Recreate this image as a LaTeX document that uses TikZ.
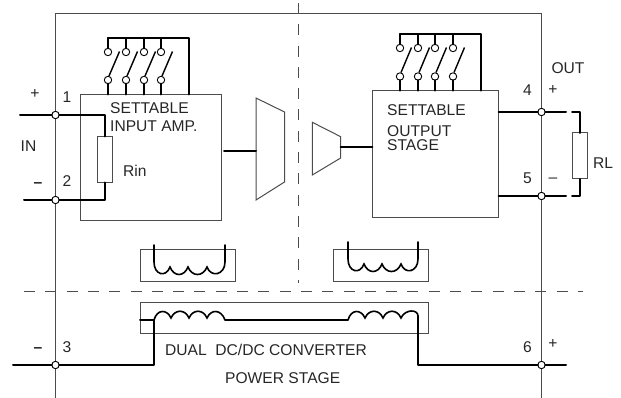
\documentclass[tikz,border=0pt]{standalone}
\usepackage{fontspec}
\usetikzlibrary{calc}
\setmainfont{Liberation Sans}
\definecolor{framegray}{gray}{0.3}
\tikzset{
  thinline/.style={draw=framegray, line width=1pt},
  wire/.style={line width=2pt, line cap=round, line join=round},
  sep/.style={framegray, line width=1pt, dash pattern=on 11pt off 10.3pt},
  block/.style={thinline, rectangle, inner sep=0pt, outer sep=0pt},
  res/.style={block, fill=white, minimum width=14.5pt, minimum height=46pt},
  term/.style={circle, draw=black, fill=white, line width=0.9pt, minimum size=7.4pt, inner sep=0pt, outer sep=0pt},
  lab/.style={inner sep=0pt, font=\fontsize{15.6}{18}\selectfont, text=black!85},
  labw/.style={lab, anchor=west}
}
\begin{document}
\begin{tikzpicture}[x=1pt,y=-1pt]
\useasboundingbox (0,0) rectangle (621,398);

% Frame and separators
\draw[thinline] (55.5,398) -- (55.5,13.5) -- (541.5,13.5) -- (541.5,398);
\draw[sep] (298.5,3) -- (298.5,283);
\draw[sep] (24,291.5) -- (583,291.5);

% Blocks
\node[block, minimum width=141pt, minimum height=126.5pt] (inamp) at (150.5,157.75) {};
\node[block, minimum width=126.4pt, minimum height=127pt] (outstage) at (435.5,154.2) {};
\node[block, minimum width=95pt, minimum height=32pt] (xfa) at (187.5,265) {};
\node[block, minimum width=95.4pt, minimum height=32pt] (xfb) at (381,265) {};
\node[block, minimum width=288.7pt, minimum height=31.5pt] (conv) at (284.35,317.75) {};

% Resistors
\node[res] (rin) at (105,159.5) {};
\node[res] (rl) at (580,156) {};

% Amplifier stages
\draw[thinline] (256,98) -- (284.5,112) -- (284.5,182) -- (256,200) -- cycle;
\draw[thinline] (312.3,122.3) -- (340.7,136.7) -- (340.7,158) -- (312.3,175) -- cycle;
\coordinate (stagea) at (256,151);
\coordinate (stageb) at (340.7,147);
\draw[wire] (224,151) -- (stagea);
\draw[wire] (stageb) -- (stageb -| outstage.west);

% Terminals
\node[term] (t1) at (55.5,115) {};
\node[term] (t2) at (55.5,200) {};
\node[term] (t3) at (55.5,365) {};
\node[term] (t4) at (541.5,112) {};
\node[term] (t5) at (541.5,196) {};
\node[term] (t6) at (541.5,365) {};

% Input side
\coordinate (ina) at (20,115);
\coordinate (inb) at (24,200);
\coordinate (inc) at (13,365);
\draw[wire] (ina) -- (t1);
\draw[wire] (inb) -- (t2);
\draw[wire] (inc) -- (t3);
\draw[wire] (t1) -| (rin.north);
\draw[wire] (t2) -| (rin.south);

% Output side
\coordinate (outa) at (566,112);
\coordinate (outb) at (566,196);
\coordinate (outc) at (566,365);
\coordinate (loada) at (572,112);
\coordinate (loadb) at (572,196);
\draw[wire] (outstage.east |- t4) -- (t4);
\draw[wire] (outstage.east |- t5) -- (t5);
\draw[wire] (t4) -- (outa);
\draw[wire] (t5) -- (outb);
\draw[wire] (t6) -- (outc);
\draw[wire] (loada) -| (rl.north);
\draw[wire] (loadb) -| (rl.south);

% Switch banks
\coordinate (busa) at (189,38);
\coordinate (busb) at (481,34);
\foreach \i/\x in {1/108,2/126,3/144,4/161} {
  \node[term] (swa\i) at (\x,52) {};
  \node[term] (swc\i) at (\x,80) {};
  \draw[wire] (swa\i) -- (swa\i |- busa);
  \draw[wire] (swc\i) -- (swc\i |- inamp.north);
  \draw[line width=1.4pt] ($(swc\i)+(1,-4)$) -- ($(swa\i)+(11.5,-0.5)$);
}
\foreach \i/\x in {1/400,2/418,3/435,4/453} {
  \node[term] (swb\i) at (\x,48) {};
  \node[term] (swd\i) at (\x,76.5) {};
  \draw[wire] (swb\i) -- (swb\i |- busb);
  \draw[wire] (swd\i) -- (swd\i |- outstage.north);
  \draw[line width=1.4pt] ($(swd\i)+(1,-4)$) -- ($(swb\i)+(11.5,-0.5)$);
}
\draw[wire] (swa1 |- busa) -- (busa) -- (busa |- inamp.north);
\draw[wire] (swb1 |- busb) -- (busb) -- (busb |- outstage.north);

% Windings above the separator
\begin{scope}
\draw[line width=1.6pt, line cap=round] (154,245) -- (154,262)
  .. controls (154,275) and (166,278) .. (170,267)
  .. controls (174,277) and (184,277) .. (188,267)
  .. controls (192,277) and (203,277) .. (207,267)
  .. controls (211,278) and (225,275) .. (225,262) -- (225,245);
\end{scope}
\begin{scope}[shift={(194,-3)}]
\draw[line width=1.6pt, line cap=round] (154,245) -- (154,262)
  .. controls (154,275) and (166,278) .. (170,267)
  .. controls (174,277) and (184,277) .. (188,267)
  .. controls (192,277) and (203,277) .. (207,267)
  .. controls (211,278) and (224,275) .. (224,262) -- (224,245);
\end{scope}

% Converter windings
\coordinate (cva) at (154,320);
\coordinate (cvb) at (225,320);
\coordinate (cvc) at (348,320);
\coordinate (cvd) at (418,316);
\draw[wire] (conv.west |- cva) -- (cva);
\draw[wire] (cvb) -- (cvc);
\draw[wire] (t3) -| (cva);
\draw[wire] (t6) -| (cvd);
\draw[line width=1.6pt] (cva)
  .. controls (157,309) and (167,309) .. (171,318)
  .. controls (175,309) and (185,309) .. (189,318)
  .. controls (193,309) and (203,309) .. (207,318)
  .. controls (211,309) and (221,309) .. (cvb);
\draw[line width=1.6pt] (cvc)
  .. controls (351,309) and (361,309) .. (365,318)
  .. controls (369,309) and (379,309) .. (383,318)
  .. controls (387,309) and (397,309) .. (401,318)
  .. controls (405,309) and (418,309) .. (cvd);

% Labels
\node[lab] (lplus) at (35,94.5) {+};
\node[lab] (l1) at (67,97) {1};
\node[lab] (lin) at (28.5,146) {IN};
\node[lab, font=\fontsize{15.6}{18}\selectfont\bfseries] (lminus) at (38,185.5) {–};
\node[lab] (l2) at (67,181.5) {2};
\node[labw] (lrin) at (123,171) {Rin};
\node[labw] (lsa) at (110,108.5) {SETTABLE};
\node[labw] (lia) at (110,126.5) {INPUT AMP.};
\node[labw] (lsb) at (387,110) {SETTABLE};
\node[labw] (lob) at (387,131) {OUTPUT};
\node[labw] (lst) at (387,145.5) {STAGE};
\node[lab] (lout) at (568,68) {OUT};
\node[lab] (l4) at (527.5,90) {4};
\node[lab] (lplusb) at (553,90.5) {+};
\node[lab] (l5) at (527.5,178) {5};
\node[lab] (lminusb) at (553,180.5) {–};
\node[lab] (lrl) at (603,163) {RL};
\node[lab, font=\fontsize{15.6}{18}\selectfont\bfseries] (lminusc) at (38,350.5) {–};
\node[lab] (l3) at (67,347) {3};
\node[lab] (l6) at (527.5,347) {6};
\node[lab] (lplusc) at (553,343.5) {+};
\node[labw] (ldual) at (165,349.5) {DUAL\ \ DC/DC CONVERTER};
\node[labw] (lpow) at (225,378.5) {POWER STAGE};
\end{tikzpicture}
\end{document}
